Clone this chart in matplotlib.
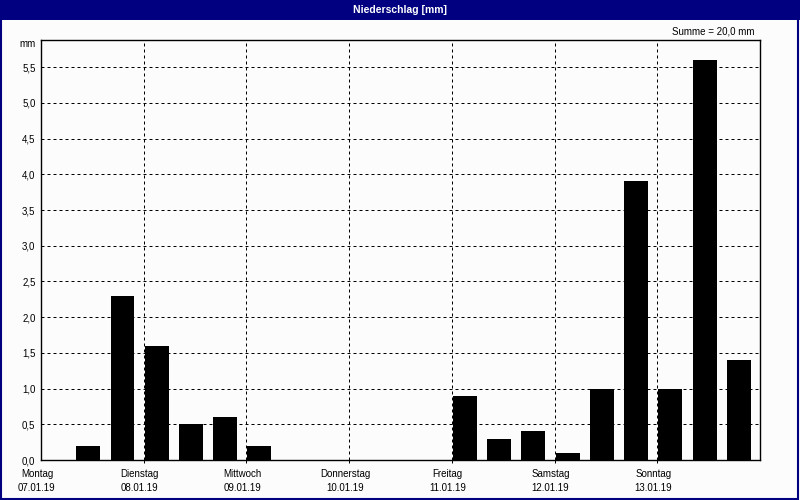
import matplotlib
matplotlib.use("Agg")
import matplotlib.pyplot as plt
from matplotlib.patches import Rectangle
from matplotlib.transforms import blended_transform_factory

# Data: 8-hourly precipitation (mm), 3 slots per day
days = ["Montag", "Dienstag", "Mittwoch", "Donnerstag", "Freitag", "Samstag", "Sonntag"]
dates = ["07.01.19", "08.01.19", "09.01.19", "10.01.19", "11.01.19", "12.01.19", "13.01.19"]
precip = [0.0, 0.2, 2.3,
          1.6, 0.5, 0.6,
          0.2, 0.0, 0.0,
          0.0, 0.0, 0.0,
          0.9, 0.3, 0.4,
          0.1, 1.0, 3.9,
          1.0, 5.6, 1.4]
yticks = [0.5, 1.0, 1.5, 2.0, 2.5, 3.0, 3.5, 4.0, 4.5, 5.0, 5.5]
title = "Niederschlag [mm]"
summe_text = "Summe = 20,0 mm"

plt.rcParams['font.family'] = ['Liberation Sans', 'DejaVu Sans']
FS = 7

W, H = 800, 500
fig = plt.figure(figsize=(8, 5), dpi=100, facecolor="#fcfcfc")
navy = "#000080"

# Title bar and window border
fig.patches.append(Rectangle((0, 1 - 20 / H), 1, 20 / H, transform=fig.transFigure,
                             facecolor=navy, edgecolor="none", zorder=0))
fig.patches.append(Rectangle((0.5 / W, 1.5 / H), 1 - 2.5 / W, 1 - 2 / H, transform=fig.transFigure,
                             facecolor="none", edgecolor=navy, linewidth=1.5, zorder=0))
fig.text(0.5, 1 - 10 / H, title, color="white", fontsize=7.5, fontweight="bold",
         ha="center", va="center")

left, right, top, bottom = 41, 760, 40, 460
ax = fig.add_axes([left / W, 1 - bottom / H, (right - left) / W, (bottom - top) / H])
ax.set_facecolor("#fcfcfc")

n = len(precip)
xs = [i + 0.03 for i in range(n)]
ax.bar(xs, precip, width=0.7, align="edge", color="black", zorder=3)

ax.set_xlim(0, n)
ax.set_ylim(0, 5.88)

# Grid
dash = (0, (3, 3))
for d in range(1, len(days)):
    ax.axvline(d * 3, color="black", linewidth=0.72, linestyle=dash, zorder=1)
for y in yticks:
    ax.axhline(y, color="black", linewidth=0.72, linestyle=dash, zorder=1)

ax.set_yticks([0.0] + yticks)
ax.set_yticklabels([f"{v:.1f}".replace(".", ",") for v in [0.0] + yticks], fontsize=FS)
ax.tick_params(axis="y", length=0, pad=4)
ax.set_xticks([d * 3 for d in range(1, len(days))])
ax.set_xticklabels([])
ax.tick_params(axis="x", length=2, width=0.72, direction="out")

for s in ax.spines.values():
    s.set_linewidth(1.0)
    s.set_color("black")

# Day labels
tr = blended_transform_factory(ax.transData, fig.transFigure)
for i, (dname, dt) in enumerate(zip(days, dates)):
    x = i * 3 - 0.12
    ax.text(x, 1 - 474 / H, dname, transform=tr, ha="center", va="center", fontsize=FS)
    ax.text(x, 1 - 488 / H, dt, transform=tr, ha="center", va="center", fontsize=FS)

fig.text(36 / W, 1 - 44 / H, "mm", ha="right", va="center", fontsize=FS)
fig.text(754 / W, 1 - 31 / H, summe_text, ha="right", va="center", fontsize=FS)

fig.savefig("out.png", dpi=100, facecolor=fig.get_facecolor())
